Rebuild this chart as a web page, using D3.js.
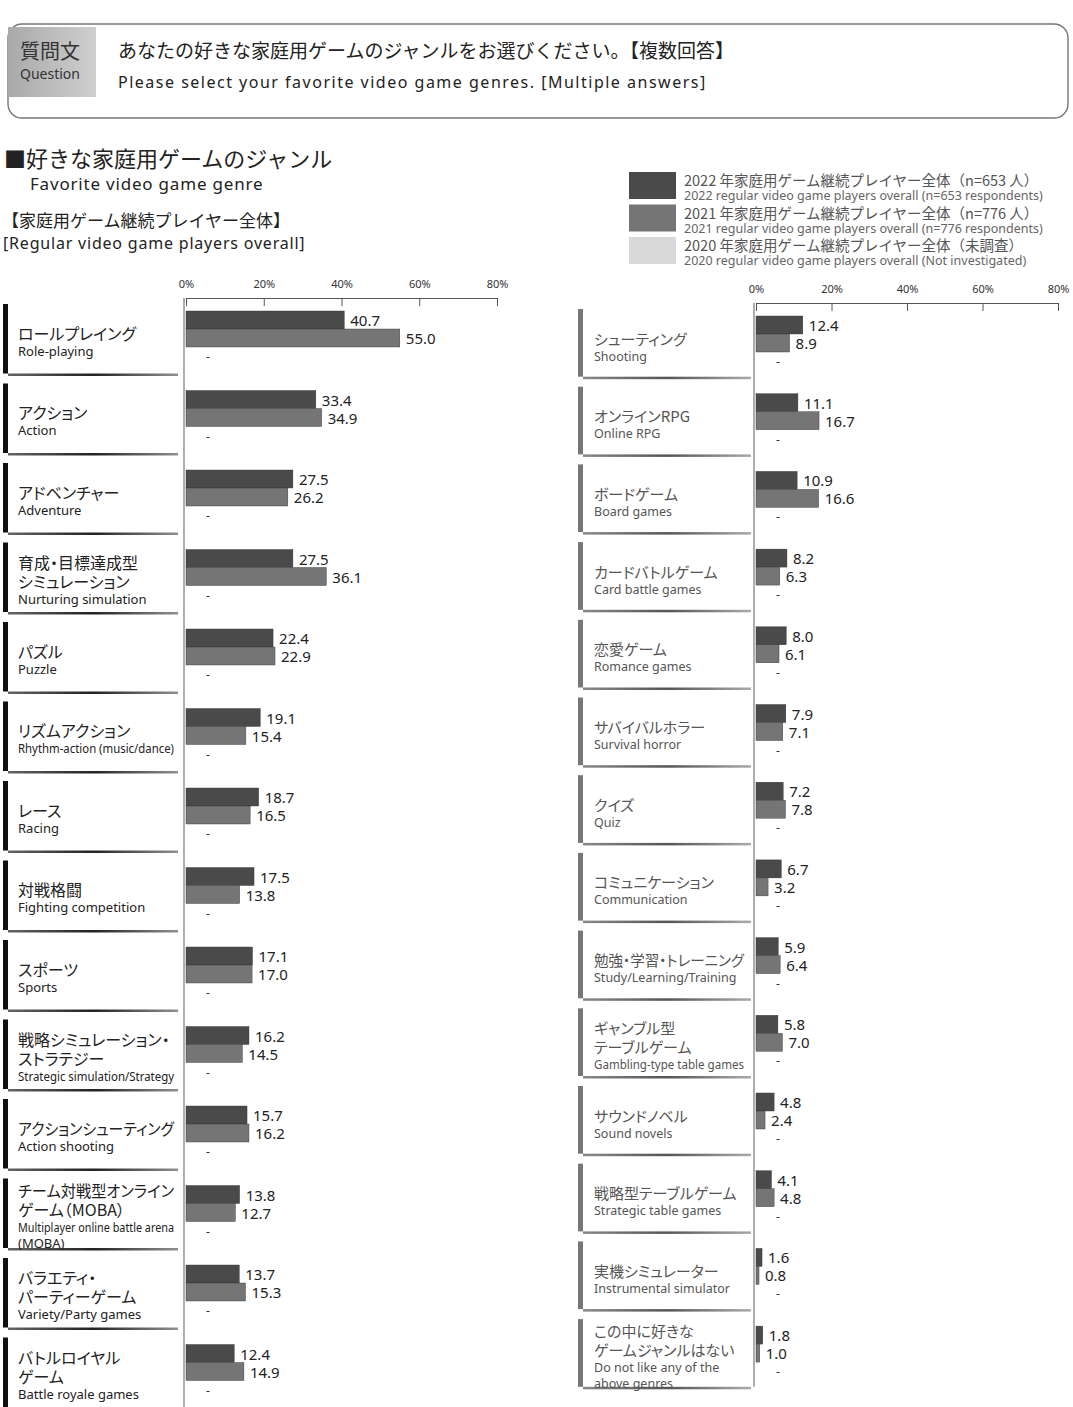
<!DOCTYPE html>
<html lang="ja">
<head>
<meta charset="utf-8">
<script src="https://d3js.org/d3.v7.min.js"></script>
<style>
body { margin: 0; background: #fff; }
svg text { font-family: "Noto Sans CJK JP", "Noto Sans", sans-serif; font-feature-settings: "palt"; }
svg text.wide { font-feature-settings: normal; }
svg text.en { font-family: "Noto Sans", "Liberation Sans", sans-serif; }
.axis text { font-size: 11px; fill: #333; font-family: "Noto Sans", sans-serif; }
.axis path, .axis line { stroke: #555; stroke-width: 1; fill: none; }
</style>
</head>
<body>
<div id="chart"></div>
<script>
// ---- data ----
var leftJa = ["ロールプレイング", "アクション", "アドベンチャー", "育成・目標達成型\nシミュレーション", "パズル",
  "リズムアクション", "レース", "対戦格闘", "スポーツ", "戦略シミュレーション・\nストラテジー",
  "アクションシューティング", "チーム対戦型オンライン\nゲーム（MOBA）", "バラエティ・\nパーティーゲーム", "バトルロイヤル\nゲーム"];
var leftEn = ["Role-playing", "Action", "Adventure", "Nurturing simulation", "Puzzle",
  "Rhythm-action (music/dance)", "Racing", "Fighting competition", "Sports", "Strategic simulation/Strategy",
  "Action shooting", "Multiplayer online battle arena\n(MOBA)", "Variety/Party games", "Battle royale games"];
var left2022 = [40.7, 33.4, 27.5, 27.5, 22.4, 19.1, 18.7, 17.5, 17.1, 16.2, 15.7, 13.8, 13.7, 12.4];
var left2021 = [55.0, 34.9, 26.2, 36.1, 22.9, 15.4, 16.5, 13.8, 17.0, 14.5, 16.2, 12.7, 15.3, 14.9];

var rightJa = ["シューティング", "オンラインRPG", "ボードゲーム", "カードバトルゲーム", "恋愛ゲーム",
  "サバイバルホラー", "クイズ", "コミュニケーション", "勉強・学習・トレーニング", "ギャンブル型\nテーブルゲーム",
  "サウンドノベル", "戦略型テーブルゲーム", "実機シミュレーター", "この中に好きな\nゲームジャンルはない"];
var rightEn = ["Shooting", "Online RPG", "Board games", "Card battle games", "Romance games",
  "Survival horror", "Quiz", "Communication", "Study/Learning/Training", "Gambling-type table games",
  "Sound novels", "Strategic table games", "Instrumental simulator", "Do not like any of the\nabove genres"];
var right2022 = [12.4, 11.1, 10.9, 8.2, 8.0, 7.9, 7.2, 6.7, 5.9, 5.8, 4.8, 4.1, 1.6, 1.8];
var right2021 = [8.9, 16.7, 16.6, 6.3, 6.1, 7.1, 7.8, 3.2, 6.4, 7.0, 2.4, 4.8, 0.8, 1.0];

var tickValues = [0, 20, 40, 60, 80];
var legendJa = ["2022 年家庭用ゲーム継続プレイヤー全体（n=653 人）",
  "2021 年家庭用ゲーム継続プレイヤー全体（n=776 人）",
  "2020 年家庭用ゲーム継続プレイヤー全体（未調査）"];
var legendEn = ["2022 regular video game players overall (n=653 respondents)",
  "2021 regular video game players overall (n=776 respondents)",
  "2020 regular video game players overall (Not investigated)"];
var colors = ["#4a4a4a", "#757575", "#d9d9d9"];

var W = 1073, H = 1407;
var svg = d3.select("#chart").append("svg").attr("width", W).attr("height", H);
var defs = svg.append("defs");

var qGrad = defs.append("linearGradient").attr("id", "qgrad").attr("x1", "0%").attr("x2", "100%");
qGrad.append("stop").attr("offset", "0%").attr("stop-color", "#a9a9a9");
qGrad.append("stop").attr("offset", "100%").attr("stop-color", "#cfcfcf");

function sepGrad(id, c) {
  var g = defs.append("linearGradient").attr("id", id).attr("x1", "0%").attr("x2", "100%");
  g.append("stop").attr("offset", "0%").attr("stop-color", c).attr("stop-opacity", 0.7);
  g.append("stop").attr("offset", "50%").attr("stop-color", c).attr("stop-opacity", 1);
  g.append("stop").attr("offset", "100%").attr("stop-color", c).attr("stop-opacity", 0.5);
}
sepGrad("sepL", "#222");
sepGrad("sepR", "#555");

function fit(t, maxW) {
  if (t.node().getComputedTextLength() > maxW) {
    t.attr("textLength", maxW).attr("lengthAdjust", "spacingAndGlyphs");
  }
  return t;
}

// ---- question header ----
svg.append("rect").attr("x", 8).attr("y", 24).attr("width", 1060).attr("height", 94)
  .attr("rx", 14).attr("fill", "none").attr("stroke", "#777").attr("stroke-width", 1.4);
svg.append("rect").attr("x", 8).attr("y", 27).attr("width", 88).attr("height", 70).attr("fill", "url(#qgrad)");
svg.append("text").attr("class", "wide").attr("x", 50).attr("y", 59).attr("text-anchor", "middle")
  .style("font-size", "20px").attr("fill", "#333").text("質問文");
svg.append("text").attr("class", "en").attr("x", 50).attr("y", 79).attr("text-anchor", "middle")
  .style("font-size", "14px").attr("fill", "#333").text("Question");
svg.append("text").attr("class", "wide").attr("x", 118).attr("y", 58).style("font-size", "19px").attr("fill", "#222")
  .text("あなたの好きな家庭用ゲームのジャンルをお選びください。【複数回答】");
svg.append("text").attr("class", "en").attr("x", 118).attr("y", 88).style("font-size", "16px").attr("fill", "#222")
  .style("letter-spacing", "1.5px")
  .text("Please select your favorite video game genres. [Multiple answers]");

// ---- titles ----
svg.append("text").attr("class", "wide").attr("x", 4).attr("y", 167).style("font-size", "22px").attr("fill", "#222")
  .text("■好きな家庭用ゲームのジャンル");
svg.append("text").attr("class", "en").attr("x", 30).attr("y", 190).style("font-size", "17px").attr("fill", "#222")
  .style("letter-spacing", "0.8px").text("Favorite video game genre");
svg.append("text").attr("class", "wide").attr("x", 2).attr("y", 227).style("font-size", "17px").attr("fill", "#222")
  .text("【家庭用ゲーム継続プレイヤー全体】");
svg.append("text").attr("class", "en").attr("x", 3).attr("y", 249).style("font-size", "16px").attr("fill", "#222")
  .style("letter-spacing", "0.8px").text("[Regular video game players overall]");

// ---- legend ----
var leg = svg.append("g");
legendJa.forEach(function(t, i) {
  var y0 = 172 + i * 32.5;
  leg.append("rect").attr("x", 629).attr("y", y0).attr("width", 47).attr("height", 27).attr("fill", colors[i]);
  leg.append("text").attr("class", "wide").attr("x", 684).attr("y", y0 + 14).style("font-size", "14.5px")
    .attr("fill", "#555").text(t);
  leg.append("text").attr("class", "en").attr("x", 684).attr("y", y0 + 28).style("font-size", "12.5px")
    .attr("fill", "#666").text(legendEn[i]);
});

// ---- panels ----
function panel(o) {
  var g = svg.append("g");
  var x = d3.scaleLinear().domain([0, 80]).range([o.x0, o.x1]);
  var rows = d3.range(o.ja.length);
  var y = d3.scaleLinear().domain([0, 1]).range([o.top, o.top + o.rowH]);
  var bottom = y(o.ja.length - 1) + o.rowH - 4;

  var axis = d3.axisTop(x).tickValues(tickValues).tickFormat(function(d) { return d + "%"; })
    .tickSizeInner(-8).tickSizeOuter(-8).tickPadding(10);
  g.append("g").attr("class", "axis").attr("transform", "translate(0," + o.axisY + ")").call(axis);
  g.append("line").attr("x1", o.x0 - 2).attr("x2", o.x0 - 2).attr("y1", o.axisY).attr("y2", bottom)
    .attr("stroke", "#777").attr("stroke-width", 1.2);

  var row = g.selectAll("g.row").data(rows).enter().append("g").attr("class", "row")
    .attr("transform", function(i) { return "translate(0," + y(i) + ")"; });

  // label side bar and separator
  row.append("rect").attr("x", o.sideX).attr("y", 6).attr("width", 5).attr("height", o.rowH - 10)
    .attr("fill", o.sideColor);
  row.append("rect").attr("x", o.sideX + 5).attr("y", o.rowH - 4).attr("width", o.sepW).attr("height", 2.5)
    .attr("fill", o.sepFill);

  // labels
  row.each(function(i) {
    var r = d3.select(this);
    var ja = o.ja[i].split("\n"), en = o.en[i].split("\n");
    var h = ja.length * o.jaLH + en.length * o.enLH;
    var yy = o.labelC - h / 2;
    ja.forEach(function(t) {
      yy += o.jaLH;
      fit(r.append("text").attr("x", o.lx).attr("y", yy - 3).style("font-size", o.jaFS + "px")
        .attr("fill", o.textColor).text(t), o.maxW);
    });
    en.forEach(function(t) {
      yy += o.enLH;
      fit(r.append("text").attr("class", "en").attr("x", o.lx).attr("y", yy - 3).style("font-size", o.enFS + "px")
        .attr("fill", o.textColor).text(t), o.maxW);
    });
  });

  // bars
  var series = [o.v22, o.v21];
  series.forEach(function(vals, s) {
    row.append("rect").attr("x", x(0)).attr("y", 13 + s * 18)
      .attr("width", function(i) { return x(vals[i]) - x(0); }).attr("height", 18)
      .attr("fill", colors[s]).attr("stroke", "#333").attr("stroke-width", 0.4);
    row.append("text").attr("class", "en").attr("x", function(i) { return x(vals[i]) + 6; }).attr("y", 28 + s * 18)
      .style("font-size", "15px").attr("fill", "#222")
      .text(function(i) { return vals[i].toFixed(1); });
  });
  row.append("text").attr("class", "en").attr("x", x(0) + 20).attr("y", 63)
    .style("font-size", "12px").attr("fill", "#333").text("-");
}

panel({ ja: leftJa, en: leftEn, v22: left2022, v21: left2021,
  x0: 186, x1: 497, axisY: 298, top: 298, rowH: 79.5,
  lx: 18, sideX: 3, sepW: 170, sideColor: "#111", sepFill: "url(#sepL)",
  textColor: "#222", jaFS: 16, enFS: 13, jaLH: 19, enLH: 16, labelC: 43, maxW: 156 });

panel({ ja: rightJa, en: rightEn, v22: right2022, v21: right2021,
  x0: 756, x1: 1058, axisY: 303, top: 303, rowH: 77.7,
  lx: 594, sideX: 578, sepW: 168, sideColor: "#777", sepFill: "url(#sepR)",
  textColor: "#555", jaFS: 15, enFS: 12.5, jaLH: 19, enLH: 16, labelC: 43, maxW: 150 });
</script>
</body>
</html>
